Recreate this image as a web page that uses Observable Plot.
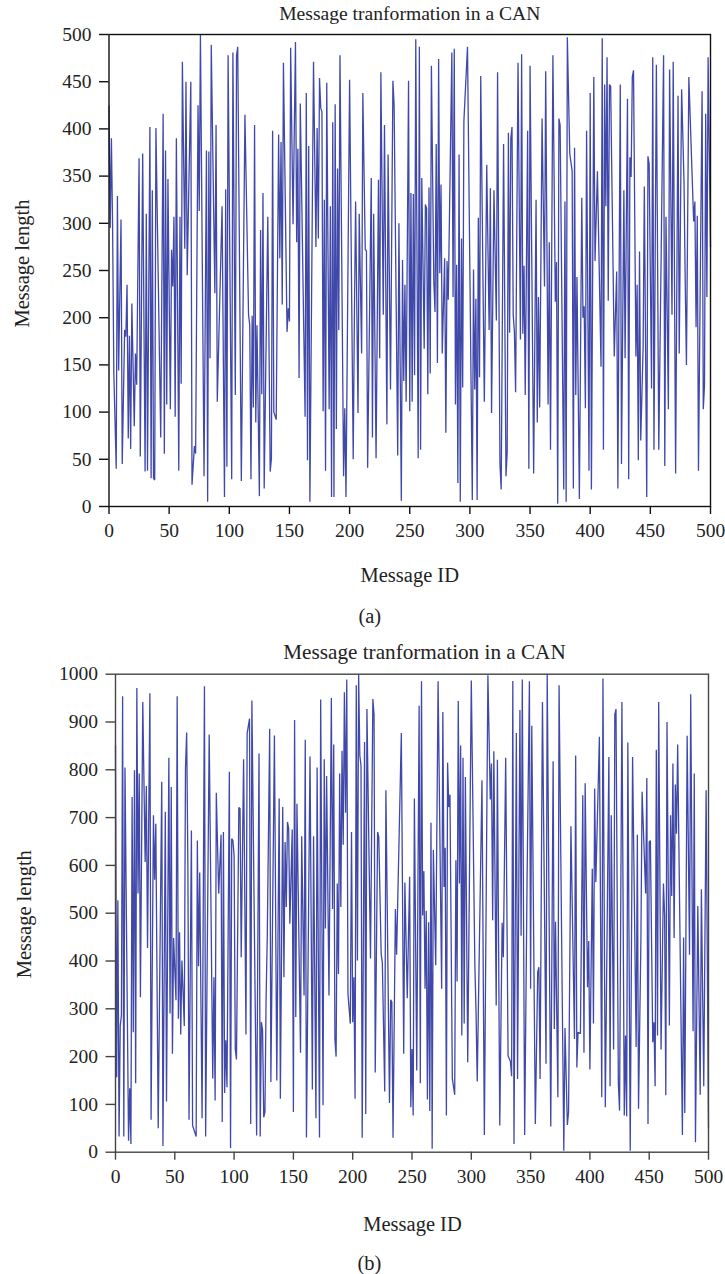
<!DOCTYPE html>
<html>
<head>
<meta charset="utf-8">
<script src="https://cdn.jsdelivr.net/npm/d3@7"></script>
<script src="https://cdn.jsdelivr.net/npm/@observablehq/plot@0.6"></script>
<style>
html,body{margin:0;padding:0;background:#fff}
svg{display:block}
</style>
</head>
<body>
<div id="chart"></div>
<script>
const titleText = "Message tranformation in a CAN";
const xLabel = "Message ID";
const yLabel = "Message length";
const captions = ["(a)", "(b)"];
const xTicks = [0,50,100,150,200,250,300,350,400,450,500];
const yTicksA = [0,50,100,150,200,250,300,350,400,450,500];
const yTicksB = [0,100,200,300,400,500,600,700,800,900,1000];

// [message id, message length]
const messagesA = [
[0,424],[1,295],[2,390],[3,295],[4,142],[6,40],[7,329],[8,144],[10,304],[11,45],[13,187],[14,180],[15,235],[16,72],[17,181],[18,61],[19,215],[21,85],[22,162],[23,129],[25,369],[26,53],[28,374],[30,37],[31,310],[32,38],[34,402],[35,30],[36,335],[37,30],[38,28],[39,401],[43,73],[45,416],[46,56],[47,377],[48,108],[49,347],[51,103],[52,272],[53,233],[54,307],[55,95],[56,390],[58,38],[59,307],[60,130],[61,471],[63,273],[64,450],[65,245],[68,450],[69,23],[71,64],[72,56],[74,425],[75,313],[76,500],[79,32],[81,377],[82,5],[83,376],[84,157],[85,489],[88,226],[89,404],[90,111],[94,318],[96,10],[97,336],[98,42],[99,478],
[102,29],[103,481],[105,118],[106,478],[107,487],[110,27],[113,415],[116,203],[117,192],[118,29],[119,202],[120,105],[121,404],[122,89],[123,192],[125,11],[126,293],[127,119],[128,332],[129,19],[132,307],[134,37],[135,51],[136,398],[137,100],[139,92],[141,394],[142,263],[143,386],[144,214],[145,470],[148,185],[149,210],[150,196],[151,486],[153,299],[155,492],[156,280],[157,379],[158,136],[159,427],[163,95],[164,438],[165,49],[166,382],[167,5],
[170,471],[172,275],[173,401],[174,284],[175,454],[176,422],[177,418],[178,101],[179,325],[180,38],[181,449],[183,103],[184,318],[185,10],[186,407],[187,10],[188,426],[189,82],[190,358],[191,187],[192,478],[195,32],[196,104],[197,10],[200,452],[203,50],[204,204],[205,323],[207,99],[208,310],[210,162],[211,438],[213,272],[214,271],[215,41],[218,348],[219,73],[220,310],[222,51],[224,346],[225,157],[226,460],[228,203],[229,404],[231,87],[232,373],[234,124],[236,451],[237,425],[240,54],[241,300],[243,6],[244,261],[245,133],[246,235],[247,111],[249,451],[250,101],[251,332],[252,111],[253,331],[254,139],[255,495],[257,51],[258,487],[259,60],[260,348],[262,167],[263,320],[264,316],[265,119],[266,338],[267,141],[268,467],[270,238],[271,206],[272,384],[273,152],[274,474],[275,247],[276,341],[277,162],[279,263],[280,78],[281,260],[282,219],[285,481],[286,222],[287,485],[288,108],[289,256],[290,25],[291,373],[292,5],[293,284],[294,126],[295,408],[298,487],
[302,7],[303,251],[304,124],[305,220],[306,7],[307,306],[308,137],[309,456],[312,111],[314,362],[316,187],[317,337],[318,99],[320,335],[322,197],[323,460],[325,44],[326,18],[328,384],[330,32],[331,58],[332,396],[333,184],[334,390],[335,402],[336,203],[337,185],[338,121],[340,470],[342,177],[343,479],[344,183],[345,255],[346,118],[348,398],[349,40],[350,467],[353,35],[355,325],[356,89],[357,222],[358,105],[360,411],[362,233],[363,461],[365,108],[366,280],[367,60],[369,478],[371,217],[372,259],[373,3],[374,411],[375,404],[378,18],[379,323],[380,5],[381,497],[383,374],[385,355],[386,19],[387,380],[388,118],[389,243],[391,8],[393,327],[394,200],[395,212],[396,104],[397,398],[399,38],[400,438],[401,18],[403,455],[404,260],[406,355],[409,148],[410,496],[411,60],[412,447],[413,318],[414,476],[415,218],[416,447],[417,445],[420,159],[422,249],[423,19],[425,447],[426,45],[428,335],[429,157],[431,432],[432,29],[433,370],[434,349],[435,455],[436,462],[438,159],[439,235],[440,49],[441,270],[442,70],[444,169],[445,339],[447,10],[448,371],[449,363],[451,125],[452,476],[453,60],[455,468],[457,60],[461,478],[462,43],[463,307],[465,103],[466,463],[468,203],[469,471],[471,35],[473,435],[474,162],[476,442],[478,343],[479,237],[480,150],[482,455],[486,302],[487,323],[488,190],[489,308],[490,38],[493,440],[494,103],[495,128],[496,416],[497,222],[498,476],[500,275]
];

// [message id, message length]
const messagesB = [
[0,851],[1,157],[2,527],[3,33],[4,265],[5,286],[6,954],[7,33],[8,805],[11,24],[12,134],[13,17],[14,743],[15,251],[16,799],[17,144],[18,971],[19,541],[20,792],[21,324],[23,942],[25,607],[26,766],[27,427],[29,960],[30,68],[32,705],[33,570],[34,687],[36,50],[39,775],[40,13],[42,712],[43,106],[45,825],[46,290],[47,764],[48,206],[49,448],[51,318],[52,954],[53,279],[54,460],[55,246],[56,401],[58,264],[59,802],[60,878],[61,611],[62,68],[64,673],[65,56],[68,33],[69,652],[70,389],[71,585],[73,71],[75,975],[76,33],[79,874],[82,154],[83,366],[84,108],[85,752],[87,541],[89,664],[90,63],[91,670],[92,124],[93,234],[94,136],[96,796],[97,9],[98,656],[99,652],
[100,621],[101,216],[102,194],[104,721],[105,719],[106,408],[108,822],[110,246],[111,876],[113,907],[114,59],[115,945],[119,35],[121,834],[122,33],[123,272],[124,255],[125,73],[126,84],[127,324],[128,457],[130,886],[131,147],[134,872],[136,150],[138,740],[139,112],[141,722],[142,366],[143,649],[144,513],[145,691],[146,677],[147,478],[149,675],[150,84],[151,904],[152,283],[153,729],[156,208],[157,661],[159,328],[160,863],[161,31],[164,828],[166,131],[167,661],[169,71],[170,805],[172,31],[173,947],[175,98],[176,822],[177,468],[178,787],[180,328],[182,950],[183,509],[184,853],[185,237],[186,200],[187,562],[188,373],[189,792],[190,513],[191,840],[192,643],[193,962],[194,710],[195,989],[196,331],[198,269],[199,670],
[200,272],[201,366],[202,112],[203,977],[204,401],[205,1000],[206,830],[207,809],[208,30],[210,858],[211,80],[212,927],[215,405],[217,948],[218,915],[219,167],[221,670],[222,659],[224,415],[225,396],[227,127],[228,757],[231,103],[232,319],[233,314],[234,30],[236,509],[237,413],[241,877],[243,206],[244,564],[246,322],[248,576],[249,94],[250,216],[251,77],[252,740],[254,171],[256,934],[257,144],[258,985],[259,495],[260,588],[261,342],[262,505],[263,110],[264,481],[265,86],[266,689],[267,7],[268,632],[270,391],[272,985],[275,342],[276,921],[277,555],[278,637],[279,77],[280,815],[281,722],[282,748],[284,154],[286,120],[287,611],[288,357],[289,944],[290,562],[291,851],[292,244],[293,825],[294,269],[295,785],[297,188],
[300,987],[303,391],[304,293],[305,148],[309,778],[311,36],[314,998],[316,738],[317,813],[318,485],[319,839],[321,307],[322,821],[324,56],[326,480],[327,408],[329,825],[331,202],[333,190],[334,159],[335,986],[336,17],[338,877],[339,153],[341,925],[342,453],[343,989],[345,36],[347,565],[349,985],[350,342],[351,892],[354,59],[356,377],[357,387],[358,153],[360,942],[363,185],[364,1000],[367,54],[369,818],[370,258],[371,482],[373,115],[374,977],[378,3],[379,260],[381,57],[382,84],[384,682],[387,237],[388,830],[389,177],[390,251],[392,248],[394,747],[395,208],[396,772],[398,345],[399,442],
[400,173],[402,593],[403,269],[404,761],[405,565],[408,869],[410,115],[411,991],[413,94],[416,827],[417,138],[418,705],[420,215],[421,916],[422,927],[424,144],[425,87],[427,942],[429,77],[430,244],[431,75],[432,857],[434,3],[436,827],[439,220],[440,664],[441,91],[443,443],[444,754],[447,541],[448,783],[449,59],[450,649],[451,652],[453,230],[454,272],[455,138],[456,842],[457,244],[458,942],[460,215],[462,562],[463,495],[464,119],[465,900],[467,265],[468,705],[469,536],[470,813],[471,448],[472,769],[473,666],[474,853],[478,36],[479,449],[480,82],[482,871],[484,413],[485,958],[487,253],[488,792],[489,21],[491,515],[493,120],[494,550],[496,138],[498,757],[500,50]
];

const lineColor = "#4049a9";
const textColor = "#222";
const font = "'Liberation Serif', serif";

function panel(o) {
  const common = {lineAnchor: "middle", textAnchor: "middle", fill: textColor};
  return Plot.plot({
    width: 725,
    height: o.height,
    marginTop: o.marginTop, marginBottom: o.marginBottom, marginLeft: o.marginLeft, marginRight: o.marginRight,
    style: {fontFamily: font, fontSize: "19.5px", color: textColor, background: "#fff"},
    x: {domain: [0, 500], ticks: xTicks},
    y: {domain: o.yDomain, ticks: o.yTicks},
    marks: [
      Plot.line(o.data, {x: d => d[0], y: d => d[1], stroke: lineColor, strokeWidth: 1.3, strokeLinejoin: "miter"}),
      Plot.frame({stroke: o.frameColor, strokeWidth: 1.4}),
      Plot.axisX({ticks: xTicks, tickSize: 8, tickPadding: 9, tickFormat: d => String(d), fontSize: 19.5, stroke: o.frameColor, strokeWidth: 1.4, label: null}),
      Plot.axisY({ticks: o.yTicks, tickSize: 9.5, tickPadding: 8, tickFormat: d => String(d), fontSize: 19.5, stroke: o.frameColor, strokeWidth: 1.4, label: null}),
      Plot.text([titleText], {...common, frameAnchor: "top", dy: o.titleDy, dx: o.titleDx, fontSize: o.titleSize}),
      Plot.text([xLabel], {...common, frameAnchor: "bottom", dy: o.xLabelDy, dx: o.xLabelDx, fontSize: 20.5}),
      Plot.text([o.caption], {...common, frameAnchor: "bottom", dy: o.captionDy, dx: o.captionDx, fontSize: 20.5}),
      Plot.text([yLabel], {...common, frameAnchor: "left", dx: o.yLabelDx, dy: o.yLabelDy, rotate: -90, fontSize: 20.5})
    ]
  });
}

const root = document.getElementById("chart");
root.append(panel({data: messagesA, yDomain: [0, 500], yTicks: yTicksA, height: 640, frameColor: "#111",
  marginTop: 34, marginBottom: 134, marginLeft: 108.5, marginRight: 15,
  caption: captions[0], titleDx: 0, titleDy: -21, titleSize: 19.6, xLabelDx: 0, xLabelDy: 69,
  captionDx: -40, captionDy: 110, yLabelDx: -86.5, yLabelDy: -7}));
root.append(panel({data: messagesB, yDomain: [0, 1000], yTicks: yTicksB, height: 634, frameColor: "#444",
  marginTop: 33.7, marginBottom: 122.3, marginLeft: 115, marginRight: 17,
  caption: captions[1], titleDx: 12.5, titleDy: -21.7, titleSize: 21.2, xLabelDx: 0.5, xLabelDy: 72.3,
  captionDx: -42.5, captionDy: 111.3, yLabelDx: -91, yLabelDy: 1}));
</script>
</body>
</html>
